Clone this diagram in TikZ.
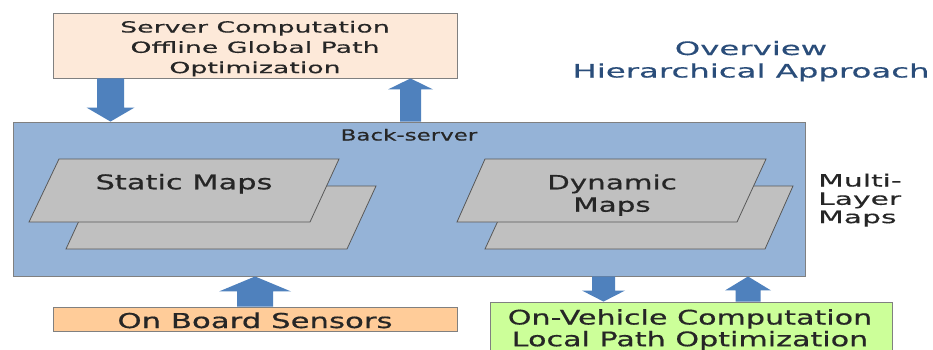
\documentclass[tikz,border=0pt]{standalone}
\usepackage{fontspec}
\usetikzlibrary{calc}
\newfontfamily\wa[FakeStretch=1.5,FakeBold=0.6]{DejaVu Sans}
\newfontfamily\wb[FakeStretch=1.75,FakeBold=0.4]{DejaVu Sans}
\definecolor{peach}{HTML}{FDE9D9}
\definecolor{mainblue}{HTML}{95B3D7}
\definecolor{arrowblue}{HTML}{4F81BD}
\definecolor{mapgray}{HTML}{C0C0C0}
\definecolor{orangebox}{HTML}{FFCC99}
\definecolor{greenbox}{HTML}{CCFF99}
\definecolor{txt}{HTML}{262626}
\definecolor{titleblue}{HTML}{2A4D7A}
\definecolor{edgegray}{HTML}{808080}
\newcommand{\blockarrow}[5]{%
  \coordinate (ba-t) at #1;
  \coordinate (ba-p) at #2;
  \coordinate (ba-h) at ($(ba-p)+(0,#5)$);
  \fill[arrowblue] ($(ba-t)+(-#3,0)$) -- ($(ba-t)+(#3,0)$) -- ($(ba-h)+(#3,0)$) -- ($(ba-h)+(#4,0)$) -- (ba-p) -- ($(ba-h)+(-#4,0)$) -- ($(ba-h)+(-#3,0)$) -- cycle;
}
\begin{document}
\begin{tikzpicture}[x=1pt,y=-1pt,
  boxstyle/.style={draw=edgegray, line width=0.9pt, inner sep=0pt, rectangle},
  mapstyle/.style={draw=black!65, fill=mapgray, line width=0.8pt},
  txtstyle/.style={inner sep=0pt, text=txt, anchor=base}
]
\useasboundingbox (0,0) rectangle (933,349);
\clip (0,0) rectangle (933,349);
\fill[white] (0,0) rectangle (933,349);

% boxes
\node[boxstyle, fill=peach, minimum width=404pt, minimum height=65pt] (top) at (255,45.5) {};
\node[boxstyle, fill=mainblue, minimum width=792pt, minimum height=154pt] (main) at (409,199) {};
\node[boxstyle, fill=orangebox, minimum width=404pt, minimum height=24pt] (sensors) at (255,319) {};
\node[boxstyle, fill=greenbox, minimum width=402pt, minimum height=60pt] (vehicle) at (691,332) {};

% map layers
\draw[mapstyle] (95,186) -- (376,186) -- (347,249) -- (66,249) -- cycle;
\draw[mapstyle] (59,159) -- (339,159) -- (310,222) -- (29,222) -- cycle;
\draw[mapstyle] (514,186) -- (793,186) -- (765,249) -- (485,249) -- cycle;
\draw[mapstyle] (485,159) -- (766,159) -- (737,222) -- (457,222) -- cycle;

% arrows
\blockarrow{(110.5,0 |- top.south)}{(110.5,0 |- main.north)}{13.5}{24}{-14}
\blockarrow{(410.5,0 |- main.north)}{(410.5,0 |- top.south)}{10.5}{22.5}{11}
\blockarrow{(255,0 |- sensors.north)}{(255,0 |- main.south)}{18}{36}{15}
\blockarrow{(603.5,0 |- main.south)}{(603.5,0 |- vehicle.north)}{11.5}{21.5}{-11}
\blockarrow{(748,0 |- vehicle.north)}{(748,0 |- main.south)}{12.5}{23}{14}

% texts
\node[txtstyle, font=\wb\fontsize{15.3pt}{20.3pt}\selectfont] (toptext) at (255,32.5)
  {\begin{tabular}[t]{@{}c@{}}Server Computation\\Offline Global Path\\Optimization\end{tabular}};
\node[txtstyle, text=titleblue, font=\wb\fontsize{18.5pt}{22.5pt}\selectfont] (title) at (751,55)
  {\begin{tabular}[t]{@{}c@{}}Overview\\Hierarchical Approach\end{tabular}};
\node[txtstyle, anchor=base west, font=\wb\fontsize{17pt}{18.3pt}\selectfont] (multi) at (818,186.5)
  {\begin{tabular}[t]{@{}l@{}}Multi-\\Layer\\Maps\end{tabular}};
\node[txtstyle, font=\wa\fontsize{15.3pt}{18pt}\selectfont] (back) at (409,140.5) {Back-server};
\node[txtstyle, font=\wa\fontsize{20.3pt}{22pt}\selectfont] (static) at (184,189.3) {Static Maps};
\node[txtstyle, font=\wa\fontsize{19.6pt}{22.4pt}\selectfont] (dynamic) at (612,189.3)
  {\begin{tabular}[t]{@{}c@{}}Dynamic\\Maps\end{tabular}};
\node[txtstyle, font=\wa\fontsize{20.5pt}{22pt}\selectfont] (sensorstext) at (255,328) {On Board Sensors};
\node[txtstyle, font=\wa\fontsize{20.1pt}{21.5pt}\selectfont] (vehicletext) at (690,324.5)
  {\begin{tabular}[t]{@{}c@{}}On-Vehicle Computation\\Local Path Optimization\end{tabular}};
\end{tikzpicture}
\end{document}
